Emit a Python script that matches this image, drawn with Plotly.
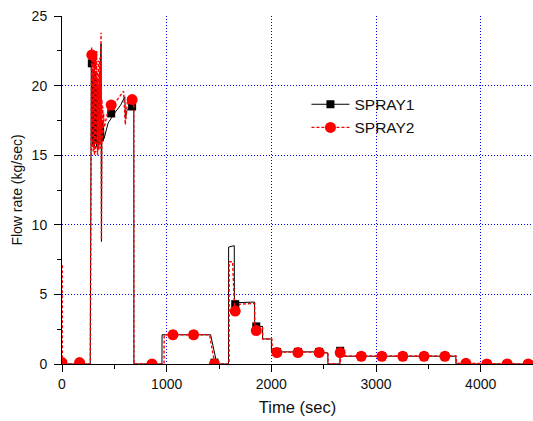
import plotly.graph_objects as go

# ---------------- data ----------------
s1_t = [0, 270, 280, 283, 286, 289, 292, 295, 298, 301, 304, 307, 310, 313, 316, 319, 322, 325, 328, 331, 334,
        337, 340, 343, 346, 349, 352, 355, 358, 361, 364, 367, 370, 373, 377, 381, 385, 389, 393, 397, 402,
        440, 500, 560, 600, 606, 620, 650, 686, 687, 955, 956, 1420, 1480, 1591, 1592, 1646, 1647,
        1840, 1841, 1916, 1917, 2000, 2001, 2480, 2481, 2540, 2541, 2655, 2656, 2685, 2686, 3763, 3764, 4500]
s1_v = [0, 0, 22.0, 18.5, 21.2, 16.0, 20.5, 15.6, 21.0, 16.2, 20.0, 15.5, 21.5, 16.0, 20.2, 15.8, 21.0, 16.5, 19.8, 15.6, 20.5,
        16.0, 19.5, 15.5, 20.0, 16.2, 19.0, 15.8, 20.5, 16.0, 21.0, 16.5, 22.0, 23.0, 8.8, 17.0, 16.0, 17.5, 16.0, 17.0, 16.2,
        17.3, 18.0, 18.6, 19.2, 17.6, 18.2, 18.5, 18.6, 0, 0, 2.1, 2.1, 0, 0, 8.4, 8.5, 4.4,
        4.45, 2.7, 2.7, 1.8, 1.8, 0.87, 0.87, 0.8, 0.8, 0, 0, 1.05, 1.05, 0.56, 0.56, 0, 0]

s2_t = [2, 3, 270, 280, 283, 286, 289, 292, 295, 298, 301, 304, 307, 310, 313, 316, 319, 322, 325, 328, 331, 334,
        337, 340, 343, 346, 349, 352, 355, 358, 361, 364, 367, 370, 373, 377, 381, 385, 389, 393, 397, 404,
        445, 520, 588, 605, 624, 652, 686, 687, 975, 976, 1410, 1460, 1596, 1597, 1630, 1650, 1700,
        1840, 1841, 1916, 1917, 2005, 2010, 2480, 2540, 2541, 2660, 2661, 2690, 2691, 3765, 3770, 4500]
s2_v = [7.1, 0, 0, 21.5, 22.8, 17.0, 22.5, 15.5, 22.0, 15.2, 21.8, 16.0, 22.3, 15.0, 21.5, 16.5, 22.0, 15.2, 21.5, 16.0, 22.5, 15.8,
        21.0, 15.0, 20.5, 16.2, 21.8, 15.4, 20.8, 16.0, 22.0, 15.5, 21.5, 16.5, 23.8, 8.9, 19.0, 16.0, 18.5, 16.5, 18.0, 17.0,
        18.4, 18.9, 19.6, 17.2, 18.8, 19.0, 19.0, 0, 0, 2.1, 2.1, 0, 0, 7.35, 7.35, 3.8, 4.3,
        4.35, 2.5, 2.6, 1.8, 1.8, 0.85, 0.85, 0.8, 0, 0, 0.95, 0.95, 0.58, 0.58, 0.05, 0]

mk_t = [0, 168, 285, 470, 670, 860, 1060, 1257, 1457, 1655, 1856, 2053, 2254, 2457, 2658, 2859, 3056, 3256, 3459,
        3658, 3859, 4059, 4253, 4454]
mk1_v = [0, 0, 21.6, 18.0, 18.5, 0, 2.1, 2.1, 0.1, 4.3, 2.7, 0.87, 0.87, 0.87, 0.95, 0.56, 0.56, 0.56, 0.56,
         0.56, 0, 0, 0, 0]
mk2_v = [0.1, 0.1, 22.2, 18.6, 19.0, 0, 2.1, 2.1, 0, 3.8, 2.4, 0.82, 0.82, 0.82, 0.81, 0.55, 0.55, 0.55, 0.55,
         0.55, 0.05, 0, 0, 0]

x_ticks = [0, 1000, 2000, 3000, 4000]
x_minor = [500, 1500, 2500, 3500]
x_grid = [1000, 2000, 3000, 4000]
y_ticks = [0, 5, 10, 15, 20, 25]
y_minor = [2.5, 7.5, 12.5, 17.5, 22.5]
y_grid = [5, 10, 15, 20]
names = ["SPRAY1", "SPRAY2"]

# ---------------- figure ----------------
fig = go.Figure()
fig.add_trace(go.Scatter(x=s1_t, y=s1_v, mode="lines", line=dict(color="black", width=1),
                         showlegend=False, hoverinfo="skip"))
fig.add_trace(go.Scatter(x=mk_t, y=mk1_v, mode="markers",
                         marker=dict(symbol="square", color="black", size=8), showlegend=False))
fig.add_trace(go.Scatter(x=s2_t, y=s2_v, mode="lines", line=dict(color="red", width=1.4, dash="3px,2px"),
                         showlegend=False, hoverinfo="skip"))
fig.add_trace(go.Scatter(x=mk_t, y=mk2_v, mode="markers",
                         marker=dict(symbol="circle", color="red", size=11), showlegend=False))
# legend entries
fig.add_trace(go.Scatter(x=[None], y=[None], mode="lines+markers", name=names[0],
                         line=dict(color="black", width=1),
                         marker=dict(symbol="square", color="black", size=8)))
fig.add_trace(go.Scatter(x=[None], y=[None], mode="lines+markers", name=names[1],
                         line=dict(color="red", width=1.4, dash="3px,2px"),
                         marker=dict(symbol="circle", color="red", size=11)))
# grid carrier on overlay axes
fig.add_trace(go.Scatter(x=[None], y=[None], xaxis="x2", yaxis="y2", showlegend=False))

font = dict(family="Liberation Sans, Arial, sans-serif", size=14, color="#111111")
fig.update_layout(
    width=533, height=421,
    margin=dict(l=62, r=0, t=16, b=57),
    paper_bgcolor="white", plot_bgcolor="white",
    font=font,
    xaxis=dict(range=[0, 4500], tickvals=x_ticks, ticks="outside", ticklen=7, tickcolor="black",
               showline=True, linecolor="black", linewidth=1, showgrid=False, zeroline=False,
               minor=dict(tickvals=x_minor, ticks="outside", ticklen=4, tickcolor="black"),
               title=dict(text="Time (sec)", font=dict(size=16.5), standoff=10),
               layer="below traces"),
    yaxis=dict(range=[0, 25], tickvals=y_ticks, ticks="outside", ticklen=7, tickcolor="black",
               showline=True, linecolor="black", linewidth=1, showgrid=False, zeroline=False,
               minor=dict(tickvals=y_minor, ticks="outside", ticklen=4, tickcolor="black"),
               ticklabelstandoff=4,
               title=dict(text="Flow rate (kg/sec)", font=dict(size=14), standoff=5),
               layer="below traces"),
    xaxis2=dict(range=[0, 4500], overlaying="x", tickvals=x_grid, showticklabels=False, ticks="",
                showgrid=True, gridcolor="#0000ff", griddash="1px,2px", gridwidth=1, zeroline=False,
                showline=False, layer="below traces"),
    yaxis2=dict(range=[0, 25], overlaying="y", tickvals=y_grid, showticklabels=False, ticks="",
                showgrid=True, gridcolor="#0000ff", griddash="1px,2px", gridwidth=1, zeroline=False,
                showline=False, layer="below traces"),
    legend=dict(x=0.519, y=0.794, xanchor="left", yanchor="top", bgcolor="rgba(0,0,0,0)",
                font=dict(size=15.5), tracegroupgap=0, itemwidth=38),
)
fig.write_html("out.html")
